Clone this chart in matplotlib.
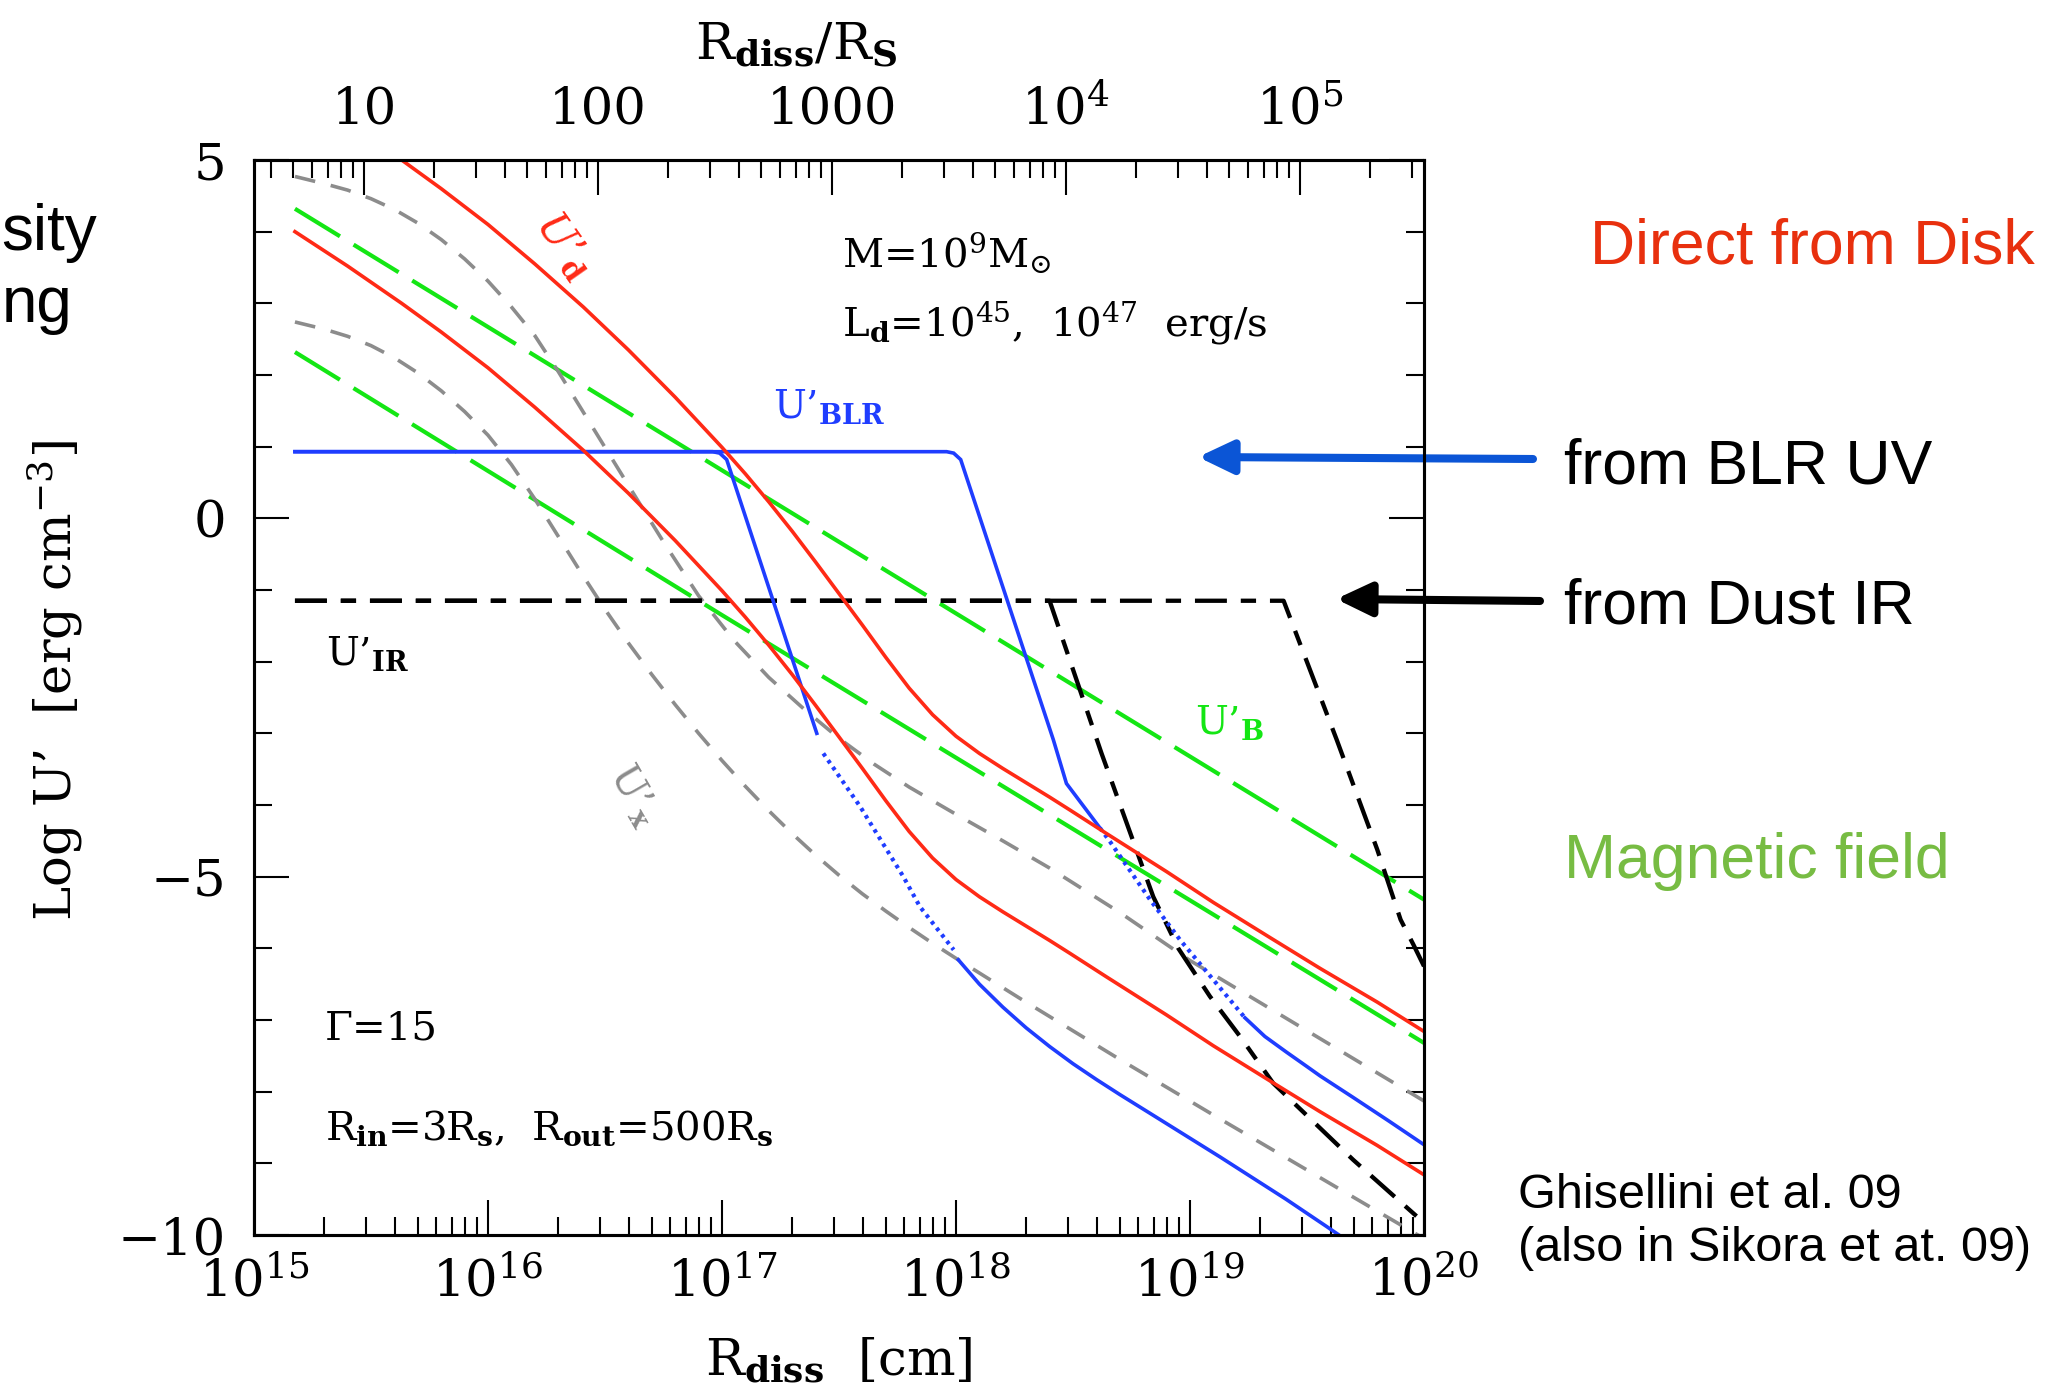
import numpy as np
import matplotlib
matplotlib.use("Agg")
import matplotlib.pyplot as plt
from matplotlib.ticker import LogLocator, FixedLocator, MultipleLocator, NullFormatter, FixedFormatter

plt.rcParams['font.family'] = 'DejaVu Serif'
plt.rcParams['mathtext.fontset'] = 'dejavuserif'
plt.rcParams['lines.scale_dashes'] = False
plt.rcParams['axes.unicode_minus'] = True

# Schwarzschild radius for M = 1e9 Msun [cm]
R_S = 2.95e14

# ---- disk radiation U'_d (log R [cm], log U' [erg cm^-3]) ----
logR_disk = [15.175, 15.4, 15.631, 15.8, 16.0, 16.2, 16.407, 16.6, 16.8, 17.0, 17.1, 17.2,
             17.3, 17.4, 17.5, 17.6, 17.7, 17.8, 17.9, 18.0, 18.1, 18.2, 18.3, 18.4,
             18.487, 18.644, 18.9, 19.1, 19.342, 19.556, 19.8, 20.0]
logU_disk_47 = [6.00, 5.52, 5.00, 4.60, 4.10, 3.55, 2.95, 2.35, 1.69, 0.99, 0.62, 0.23,
                -0.18, -0.61, -1.05, -1.49, -1.94, -2.37, -2.74, -3.04, -3.28, -3.49, -3.69, -3.89,
                -4.07, -4.40, -4.93, -5.36, -5.85, -6.28, -6.75, -7.16]
logU_disk_45 = [4.00, 3.52, 3.00, 2.60, 2.10, 1.55, 0.95, 0.35, -0.31, -1.01, -1.38, -1.77,
                -2.18, -2.61, -3.05, -3.49, -3.94, -4.37, -4.74, -5.04, -5.28, -5.49, -5.69, -5.89,
                -6.07, -6.40, -6.93, -7.36, -7.85, -8.28, -8.75, -9.16]

# ---- magnetic field U'_B ----
logR_B = [15.175, 17.0, 20.0]
logU_B_47 = [4.32, 0.67, -5.32]
logU_B_45 = [2.32, -1.35, -7.32]

# ---- X-ray corona U'_x ----
logR_x47 = [15.175, 15.3, 15.4, 15.5, 15.6, 15.7, 15.8, 15.9, 16.0, 16.1, 16.2, 16.3, 16.4,
            16.5, 16.6, 16.75, 16.9, 17.05, 17.2, 17.35, 17.5, 17.65, 17.8, 18.0, 18.2, 18.4,
            18.7, 19.0, 19.5, 20.0]
logU_x47 = [4.77, 4.67, 4.58, 4.46, 4.31, 4.12, 3.89, 3.62, 3.31, 2.95, 2.55, 2.05, 1.52,
            0.99, 0.46, -0.33, -1.08, -1.70, -2.22, -2.66, -3.07, -3.43, -3.75, -4.13, -4.50, -4.88,
            -5.50, -6.17, -7.15, -8.13]
logR_x45 = [15.175, 15.3, 15.4, 15.5, 15.6, 15.7, 15.8, 15.9, 16.0, 16.1, 16.2, 16.3, 16.4,
            16.5, 16.6, 16.7, 16.8, 16.9, 17.0, 17.1, 17.2, 17.3, 17.4, 17.5, 17.6, 17.7, 17.8,
            17.9, 18.0, 18.274, 18.7, 19.128, 19.556, 20.0]
logU_x45 = [2.74, 2.64, 2.54, 2.41, 2.24, 2.03, 1.78, 1.49, 1.16, 0.75, 0.27, -0.25, -0.77,
            -1.27, -1.74, -2.18, -2.60, -3.00, -3.38, -3.74, -4.08, -4.40, -4.70, -4.98, -5.24,
            -5.48, -5.71, -5.93, -6.14, -6.70, -7.55, -8.38, -9.20, -10.05]

# ---- broad line region U'_BLR (solid / dotted / solid pieces) ----
logR_blr47_a = [15.175, 17.96, 17.99, 18.02, 18.416, 18.472, 18.615]
logU_blr47_a = [0.93, 0.93, 0.91, 0.82, -3.09, -3.70, -4.32]
logR_blr47_dot = [18.615, 18.658, 18.829, 18.957, 19.10, 19.235]
logU_blr47_dot = [-4.32, -4.51, -5.32, -5.88, -6.44, -6.97]
logR_blr47_b = [19.235, 19.32, 19.413, 19.5, 19.556, 19.697, 19.85, 20.0]
logU_blr47_b = [-6.97, -7.23, -7.45, -7.65, -7.78, -8.08, -8.41, -8.74]

logR_blr45_a = [15.175, 16.96, 16.99, 17.02, 17.405]
logU_blr45_a = [0.93, 0.93, 0.91, 0.82, -3.0]
logR_blr45_dot = [17.433, 17.59, 17.775, 17.846, 17.99]
logU_blr45_dot = [-3.28, -4.02, -5.0, -5.42, -6.02]
logR_blr45_b = [18.01, 18.1, 18.2, 18.3, 18.4, 18.5, 18.6, 18.7, 18.843, 19.128, 19.41, 19.583, 19.65]
logU_blr45_b = [-6.16, -6.50, -6.82, -7.11, -7.37, -7.61, -7.83, -8.04, -8.33, -8.91, -9.50, -9.88, -10.03]

# ---- dusty torus U'_IR ----
logR_ir45 = [15.175, 18.40, 18.622, 18.843, 18.95, 19.085, 19.214, 19.355, 19.697, 20.0]
logU_ir45 = [-1.15, -1.15, -3.28, -5.28, -6.0, -6.67, -7.23, -7.88, -8.95, -9.83]
logR_ir47 = [15.175, 19.40, 19.627, 19.80, 19.90, 19.955, 20.0]
logU_ir47 = [-1.15, -1.15, -3.09, -4.62, -5.6, -5.95, -6.25]

# ---- tick labels ----
bottom_ticks = [1e15, 1e16, 1e17, 1e18, 1e19, 1e20]
bottom_labels = [r'$10^{15}$', r'$10^{16}$', r'$10^{17}$', r'$10^{18}$', r'$10^{19}$', r'$10^{20}$']
top_ticks = [10, 100, 1000, 1e4, 1e5]
top_labels = ['10', '100', '1000', r'$10^4$', r'$10^5$']
y_ticks = [-10, -5, 0, 5]
y_labels = ['\u221210', '\u22125', '0', '5']

RED = '#ff2a16'
BLUE = '#1f3dff'
GREEN = '#14e614'
GRAY = '#8c8c8c'
BLACK = '#000000'

W, H = 2064, 1398
fig = plt.figure(figsize=(W / 100, H / 100), dpi=100)
L, R, T, B = 254, 1424, 160, 1235
ax = fig.add_axes([L / W, 1 - B / H, (R - L) / W, (B - T) / H])


def P(xs):
    return 10 ** np.asarray(xs, dtype=float)


green_ls = (0, (38, 11.5))
gray_ls = (0, (15, 11.5))
black_ls = (0, (23, 10, 11, 10))
dot_ls = (0, (2.6, 3.4))

LW = 2.6
ax.plot(P(logR_B), logU_B_47, color=GREEN, lw=3.0, ls=green_ls)
ax.plot(P(logR_B), logU_B_45, color=GREEN, lw=3.0, ls=green_ls)
ax.plot(P(logR_x47), logU_x47, color=GRAY, lw=LW, ls=gray_ls)
ax.plot(P(logR_x45), logU_x45, color=GRAY, lw=LW, ls=gray_ls)
ax.plot(P(logR_ir47), logU_ir47, color=BLACK, lw=3.1, ls=black_ls)
ax.plot(P(logR_ir45), logU_ir45, color=BLACK, lw=3.1, ls=black_ls)
for xs, ys in [(logR_blr47_a, logU_blr47_a), (logR_blr47_b, logU_blr47_b),
               (logR_blr45_a, logU_blr45_a), (logR_blr45_b, logU_blr45_b)]:
    ax.plot(P(xs), ys, color=BLUE, lw=LW, solid_joinstyle='miter')
for xs, ys in [(logR_blr47_dot, logU_blr47_dot), (logR_blr45_dot, logU_blr45_dot)]:
    ax.plot(P(xs), ys, color=BLUE, lw=3.0, ls=dot_ls)
ax.plot(P(logR_disk), logU_disk_47, color=RED, lw=LW)
ax.plot(P(logR_disk), logU_disk_45, color=RED, lw=LW)

ax.set_xscale('log')
ax.set_xlim(1e15, 1e20)
ax.set_ylim(-10, 5)

TICK_FS = 37
ax.xaxis.set_major_locator(FixedLocator(bottom_ticks))
ax.xaxis.set_major_formatter(FixedFormatter(bottom_labels))
ax.xaxis.set_minor_locator(LogLocator(base=10, subs=np.arange(2, 10), numticks=50))
ax.xaxis.set_minor_formatter(NullFormatter())
ax.yaxis.set_major_locator(FixedLocator(y_ticks))
ax.yaxis.set_major_formatter(FixedFormatter(y_labels))
ax.yaxis.set_minor_locator(MultipleLocator(1))

ax.tick_params(axis='both', which='both', direction='in', width=1.5, labelsize=TICK_FS)
ax.tick_params(axis='both', which='major', length=25)
ax.tick_params(axis='both', which='minor', length=13)
ax.tick_params(axis='x', which='both', top=False, pad=16)
ax.tick_params(axis='y', which='both', right=True, pad=20)
for s in ax.spines.values():
    s.set_linewidth(2.2)

ax2 = ax.twiny()
ax2.set_xscale('log')
ax2.set_xlim(1e15 / R_S, 1e20 / R_S)
ax2.xaxis.set_major_locator(FixedLocator(top_ticks))
ax2.xaxis.set_major_formatter(FixedFormatter(top_labels))
ax2.xaxis.set_minor_locator(LogLocator(base=10, subs=np.arange(2, 10), numticks=50))
ax2.xaxis.set_minor_formatter(NullFormatter())
ax2.tick_params(axis='x', which='both', direction='in', width=1.5, labelsize=TICK_FS, pad=18)
ax2.tick_params(axis='x', which='major', length=25)
ax2.tick_params(axis='x', which='minor', length=13)
for s in ax2.spines.values():
    s.set_linewidth(2.2)

# axis titles
LAB_FS = 37
ax.set_xlabel(r'R$_{\mathbf{diss}}$  [cm]', fontsize=LAB_FS)
ax.xaxis.label.set_va('center')
ax.xaxis.set_label_coords(0.5, (B - 1362) / (B - T))
ax.set_ylabel(r'Log U’  [erg cm$^{-3}$]', fontsize=LAB_FS)
ax.yaxis.label.set_va('center')
ax.yaxis.set_label_coords((55 - L) / (R - L), (B - 681) / (B - T))
ax2.set_xlabel(r'R$_{\mathbf{diss}}$/R$_{\mathbf{S}}$', fontsize=LAB_FS)
ax2.xaxis.label.set_va('center')
ax2.xaxis.set_label_coords((796 - L) / (R - L), (B - 46) / (B - T))

# curve labels
ax.text(10 ** 16.33, 3.81, r'U’$_{\mathbf{d}}$', color=RED, fontsize=30, rotation=-55,
        ha='center', va='center', style='italic')
ax.text(10 ** 17.218, 1.40, r'U’$_{\mathbf{BLR}}$', color=BLUE, fontsize=28, ha='left', va='baseline')
ax.text(10 ** 15.308, -2.05, r'U’$_{\mathbf{IR}}$', color=BLACK, fontsize=28, ha='left', va='baseline')
ax.text(10 ** 19.02, -3.01, r'U’$_{\mathbf{B}}$', color=GREEN, fontsize=28, ha='left', va='baseline')
ax.text(10 ** 16.628, -3.86, r'U’$_{\mathbf{x}}$', color=GRAY, fontsize=28, rotation=-60,
        ha='center', va='center')

# parameter annotations
ax.text(0.5026, (B - 267) / (B - T), r'M=10$^{9}$M$_{\odot}$', transform=ax.transAxes,
        fontsize=29, ha='left', va='baseline')
ax.text(0.5026, (B - 336) / (B - T), r'L$_{\mathbf{d}}$=10$^{45}$,  10$^{47}$  erg/s',
        transform=ax.transAxes, fontsize=29, ha='left', va='baseline')
ax.text((325 - L) / (R - L), (B - 1040) / (B - T), 'Γ=15', transform=ax.transAxes,
        fontsize=29, ha='left', va='baseline')
ax.text((325 - L) / (R - L), (B - 1140) / (B - T),
        r'R$_{\mathbf{in}}$=3R$_{\mathbf{s}}$,  R$_{\mathbf{out}}$=500R$_{\mathbf{s}}$',
        transform=ax.transAxes, fontsize=29, ha='left', va='baseline')

# side annotations
SANS = 'Liberation Sans'


def ftext(x, y, s, **kw):
    fig.text(x / W, 1 - y / H, s, family=SANS, **kw)


ftext(97, 250, 'sity', fontsize=46, ha='right', va='baseline')
ftext(2, 322, 'ng', fontsize=46, ha='left', va='baseline')
ftext(1590, 263, 'Direct from Disk', fontsize=45, color='#e8300e', va='baseline')
ftext(1564, 483, 'from BLR UV', fontsize=45, va='baseline')
ftext(1564, 624, 'from Dust IR', fontsize=45, va='baseline')
ftext(1564, 878, 'Magnetic field', fontsize=45, color='#77bc43', va='baseline')
ftext(1518, 1208, 'Ghisellini et al. 09', fontsize=35, va='baseline')
ftext(1518, 1261, '(also in Sikora et at. 09)', fontsize=35, va='baseline')

for (x0, y0, x1, y1, col) in [(1533, 459, 1198, 457, '#0b55d6'), (1540, 601, 1336, 599, '#000000')]:
    ax.annotate('', xy=(x1, H - y1), xytext=(x0, H - y0), xycoords='figure pixels',
                textcoords='figure pixels', annotation_clip=False,
                arrowprops=dict(arrowstyle='-|>,head_length=21,head_width=10', mutation_scale=1,
                                color=col, lw=5.8, shrinkA=0, shrinkB=0))

fig.savefig('out.png', dpi=100)
